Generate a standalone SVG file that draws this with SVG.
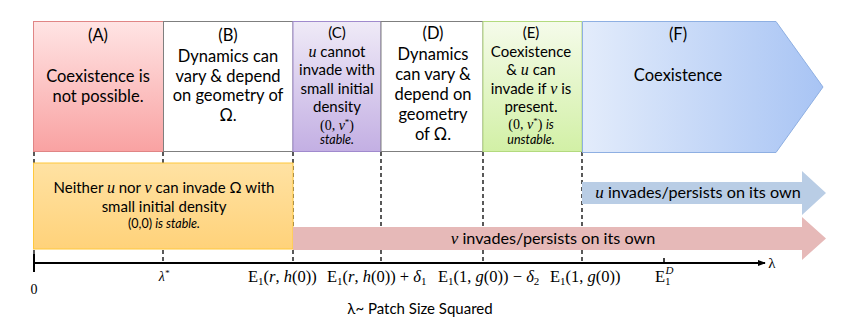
<svg xmlns="http://www.w3.org/2000/svg" width="859" height="321" viewBox="0 0 859 321">
<defs>
<linearGradient id="gA" x1="0" y1="0" x2="0" y2="1"><stop offset="0" stop-color="#FFE4E4"/><stop offset="1" stop-color="#F9A2A2"/></linearGradient>
<linearGradient id="gC" x1="0" y1="0" x2="0" y2="1"><stop offset="0" stop-color="#EFEAF7"/><stop offset="1" stop-color="#C3AFE3"/></linearGradient>
<linearGradient id="gE" x1="0" y1="0" x2="0" y2="1"><stop offset="0" stop-color="#F5FBEA"/><stop offset="1" stop-color="#D2F0A6"/></linearGradient>
<linearGradient id="gF" x1="0" y1="0" x2="1" y2="0"><stop offset="0" stop-color="#E3ECFB"/><stop offset="1" stop-color="#A8C4F4"/></linearGradient>
<linearGradient id="gO" x1="0" y1="0" x2="0" y2="1"><stop offset="0" stop-color="#FFE2A3"/><stop offset="1" stop-color="#FFD27A"/></linearGradient>
<marker id="ah" viewBox="0 0 10 10" refX="9" refY="5" markerWidth="8" markerHeight="8" markerUnits="userSpaceOnUse" orient="auto"><path d="M0,1 L10,5 L0,9 Z" fill="#000"/></marker>
</defs>
<style>
text{font-family:Lato,"Open Sans",sans-serif;fill:#000;text-anchor:middle}
.big{font-size:16.5px}
.sm{font-size:15px}
.arr{font-size:16.2px}
.xs{font-size:12.5px}
.it{font-style:italic}
.m{font-family:"Liberation Serif","DejaVu Serif",serif;font-style:italic}
.mr{font-family:"Liberation Serif","DejaVu Serif",serif}
.ax{font-family:"Liberation Serif","DejaVu Serif",serif;font-size:16.5px;text-anchor:start}
.dash{stroke:#000;stroke-width:1.3;stroke-dasharray:4 3;fill:none}
</style>

<g id="connectors">
<line class="dash" x1="34" y1="152" x2="34" y2="263"/>
<line class="dash" x1="163" y1="152" x2="163" y2="263"/>
<line class="dash" x1="293" y1="152" x2="293" y2="263"/>
<line class="dash" x1="381" y1="152" x2="381" y2="263"/>
<line class="dash" x1="483" y1="152" x2="483" y2="263"/>
<line class="dash" x1="582" y1="152" x2="582" y2="263"/>
</g>

<g id="nodeA">
<rect x="33.5" y="21.5" width="130" height="130" fill="url(#gA)" stroke="#E08585" stroke-width="1"/>
<text class="big" x="98" y="41">(A)</text>
<text class="big" x="98" y="82">Coexistence is</text>
<text class="big" x="98" y="102">not possible.</text>
</g>

<g id="nodeB">
<rect x="163.5" y="21.5" width="129.5" height="130" fill="#fff" stroke="#7F7F7F" stroke-width="1"/>
<text class="big" x="228" y="41">(B)</text>
<text class="big" x="228" y="62">Dynamics can</text>
<text class="big" x="228" y="82">vary &amp; depend</text>
<text class="big" x="228" y="101">on geometry of</text>
<text class="big" x="228" y="121">Ω.</text>
</g>

<g id="nodeC">
<rect x="293" y="21.5" width="88" height="130" fill="url(#gC)" stroke="#A08ACD" stroke-width="1"/>
<text class="sm" x="337" y="38">(C)</text>
<text class="sm" x="337" y="57"><tspan class="m" font-size="16">u</tspan> cannot</text>
<text class="sm" x="337" y="75">invade with</text>
<text class="sm" x="337" y="94">small initial</text>
<text class="sm" x="337" y="112">density</text>
<text class="mr" x="337" y="130" font-size="14">(0, <tspan class="m">v</tspan><tspan dy="-5" font-size="9">*</tspan><tspan dy="5">)</tspan></text>
<text class="xs it" x="337" y="144">stable.</text>
</g>

<g id="nodeD">
<rect x="381" y="21.5" width="102" height="130" fill="#fff" stroke="#7F7F7F" stroke-width="1"/>
<text class="big" x="433" y="39">(D)</text>
<text class="big" x="433" y="60">Dynamics</text>
<text class="big" x="433" y="80">can vary &amp;</text>
<text class="big" x="433" y="100">depend on</text>
<text class="big" x="433" y="120">geometry</text>
<text class="big" x="433" y="140">of Ω.</text>
</g>

<g id="nodeE">
<rect x="483" y="21.5" width="99" height="130" fill="url(#gE)" stroke="#B3DA7E" stroke-width="1"/>
<text class="sm" x="531" y="38">(E)</text>
<text class="sm" x="531" y="57">Coexistence</text>
<text class="sm" x="531" y="75">&amp; <tspan class="m" font-size="16">u</tspan> can</text>
<text class="sm" x="531" y="94">invade if <tspan class="m" font-size="16">v</tspan> is</text>
<text class="sm" x="531" y="112">present.</text>
<text x="531" y="129" font-size="14"><tspan class="mr">(0, </tspan><tspan class="m">v</tspan><tspan class="mr" dy="-5" font-size="9">*</tspan><tspan class="mr" dy="5">)</tspan> <tspan class="it" font-size="12.5">is</tspan></text>
<text class="xs it" x="531" y="144">unstable.</text>
</g>

<g id="nodeF">
<path d="M582.5,21.5 H776 L823,87 L776,152.5 H582.5 Z" fill="url(#gF)" stroke="#8EAFE2" stroke-width="1"/>
<text class="big" x="678" y="40">(F)</text>
<text class="big" x="678" y="81">Coexistence</text>
</g>

<g id="nodeNeither">
<rect x="33.5" y="163" width="259.5" height="86" fill="url(#gO)" stroke="#FFC83D" stroke-width="1"/>
<text class="sm" x="164" y="193" font-size="15.3">Neither <tspan class="m" font-size="16">u</tspan> nor <tspan class="m" font-size="16">v</tspan> can invade Ω with</text>
<text class="sm" x="164" y="212" font-size="15.3">small initial density</text>
<text class="xs" x="164" y="228">(0,0) <tspan class="it">is stable.</tspan></text>
</g>

<g id="nodeU">
<path d="M582,182 H802 V171 L826,193 L802,215 V204 H582 Z" fill="#B9CDE5"/>
<text class="arr" x="698" y="198"><tspan class="m" font-size="17">u</tspan> invades/persists on its own</text>
</g>

<g id="nodeV">
<path d="M293,227 H802 V217 L826,238.5 L802,260 V250 H293 Z" fill="#E6B9B8"/>
<text class="arr" x="553" y="244"><tspan class="m" font-size="17">v</tspan> invades/persists on its own</text>
</g>

<g id="axis">
<line x1="33" y1="263" x2="765" y2="263" stroke="#000" stroke-width="2" marker-end="url(#ah)"/>
<line x1="34" y1="254" x2="34" y2="272" stroke="#000" stroke-width="2"/>
<line x1="664" y1="258" x2="664" y2="263" stroke="#000" stroke-width="1.5"/>
<text class="mr" x="772" y="268" style="font-size:15px;font-style:normal">λ</text>
<text class="mr" x="34" y="294" style="font-size:14px">0</text>
<text class="m" x="164" y="281" style="font-size:14px">λ<tspan dy="-5" font-size="9">*</tspan></text>
<text class="ax" x="248" y="282">E<tspan font-size="11" dy="3">1</tspan><tspan dy="-3">(</tspan><tspan font-style="italic">r</tspan>, <tspan font-style="italic">h</tspan>(0))</text>
<text class="ax" x="327" y="282">E<tspan font-size="11" dy="3">1</tspan><tspan dy="-3">(</tspan><tspan font-style="italic">r</tspan>, <tspan font-style="italic">h</tspan>(0)) + <tspan font-style="italic">δ</tspan><tspan font-size="11" dy="3">1</tspan></text>
<text class="ax" x="438" y="282">E<tspan font-size="11" dy="3">1</tspan><tspan dy="-3">(1, </tspan><tspan font-style="italic">g</tspan>(0)) − <tspan font-style="italic">δ</tspan><tspan font-size="11" dy="3">2</tspan></text>
<text class="ax" x="550" y="282">E<tspan font-size="11" dy="3">1</tspan><tspan dy="-3">(1, </tspan><tspan font-style="italic">g</tspan>(0))</text>
<text class="ax" x="655" y="282">E<tspan font-size="11" dy="3">1</tspan><tspan font-size="11" font-style="italic" dx="-5" dy="-11">D</tspan></text>
<text class="sm" x="420" y="314" font-size="15.6">λ~ Patch Size Squared</text>
</g>
</svg>
